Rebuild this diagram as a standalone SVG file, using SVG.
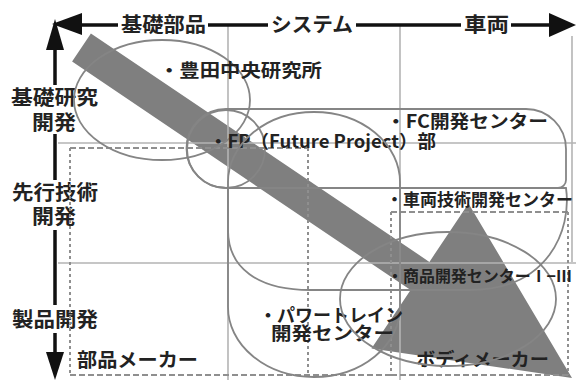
<svg xmlns="http://www.w3.org/2000/svg" width="576" height="380" viewBox="0 0 576 380">
<defs>
<style>
.ax{stroke:#111;stroke-width:3.5;fill:none}
.axh{fill:#111}
.grid{stroke:#b4b4b4;stroke-width:1.6;fill:none}
.out{stroke:#858585;stroke-width:1.8;fill:none}
.dh{stroke:#8f8f8f;stroke-width:2;stroke-dasharray:6 3;fill:none}
.dv{stroke:#8f8f8f;stroke-width:2;stroke-dasharray:3 3;fill:none}
text{font-family:"Noto Sans CJK JP","Noto Sans",sans-serif;font-weight:bold;fill:#222}
.big{font-size:20px}
.lab{font-size:18px}
</style>
</defs>
<rect width="576" height="380" fill="#fff"/>

<g id="connectors">
  <polygon id="flow-arrow" points="90.9,33.4 429.4,261.9 468.5,203.4 572,378 371.5,348.6 410.6,290.1 72.1,61.6" fill="#7f7f7f"/>
</g>

<g id="grid">
  <path class="grid" d="M228,26 V380 M400,26 V380 M572,36 V262 M58,143 H576 M58,263 H576"/>
</g>

<g id="axes">
  <path class="ax" d="M80,25 H118 M208,25 H268 M356,25 H461 M511,25 H552"/>
  <path class="ax" d="M55,48 V85 M55,134 V180 M55,230 V305 M55,333 V355"/>
  <polygon class="axh" points="52,24 82,13 82,35"/>
  <polygon class="axh" points="55,19 46,50 64,50"/>
  <polygon class="axh" points="576,25 549,13 549,37"/>
  <polygon class="axh" points="55,380 46,352 64,352"/>
  <text class="big" x="121" y="31.6" textLength="85" lengthAdjust="spacingAndGlyphs">基礎部品</text>
  <text class="big" x="271" y="31.6" textLength="82" lengthAdjust="spacingAndGlyphs">システム</text>
  <text class="big" x="464" y="31.6" textLength="45" lengthAdjust="spacingAndGlyphs">車両</text>
  <text class="big" x="11" y="105" textLength="87" lengthAdjust="spacingAndGlyphs">基礎研究</text>
  <text class="big" x="32" y="129.6" textLength="44" lengthAdjust="spacingAndGlyphs">開発</text>
  <text class="big" x="12" y="200" textLength="86" lengthAdjust="spacingAndGlyphs">先行技術</text>
  <text class="big" x="32" y="223.6" textLength="44" lengthAdjust="spacingAndGlyphs">開発</text>
  <text class="big" x="12" y="326.6" textLength="86" lengthAdjust="spacingAndGlyphs">製品開発</text>
</g>

<g id="node-parts-makers">
  <path class="dh" d="M70,148 H308 M70,375 H391"/>
  <path class="dv" d="M70,148 V375 M308,148 V375"/>
  <text x="77" y="367" font-size="19" textLength="121" lengthAdjust="spacingAndGlyphs">部品メーカー</text>
</g>

<g id="node-body-makers">
  <path class="dh" d="M391,212 H568 M391,375 H568"/>
  <path class="dv" d="M391,212 V375 M568,212 V375"/>
  <text class="lab" x="416" y="366" textLength="133" lengthAdjust="spacingAndGlyphs">ボディメーカー</text>
</g>

<g id="node-toyota-crdl">
  <ellipse class="out" cx="162" cy="100" rx="88" ry="60"/>
  <text class="lab" x="159" y="76.8" textLength="163" lengthAdjust="spacingAndGlyphs">・豊田中央研究所</text>
</g>

<g id="node-fc-center">
  <path class="out" d="M226,109 H526 A40,40 0 0 1 566,149 V180 A8,8 0 0 1 558,188 H226 A39.5,39.5 0 0 1 226,109 Z"/>
  <text class="lab" x="386" y="127.8" textLength="162" lengthAdjust="spacingAndGlyphs">・FC開発センター</text>
</g>

<g id="node-fp">
  <circle class="out" cx="226" cy="149" r="39"/>
  <text class="lab" x="209" y="147.8" textLength="227" lengthAdjust="spacingAndGlyphs">・FP（Future Project）部</text>
</g>

<g id="node-vehicle-tech">
  <path class="out" d="M228,188 H566 C572,230 548,290 470,290 H310 C258,290 228,268 228,230 Z"/>
  <text x="386" y="205.6" font-size="17" textLength="187" lengthAdjust="spacingAndGlyphs">・車両技術開発センター</text>
</g>

<g id="node-powertrain">
  <rect class="out" x="228" y="112" width="172" height="265" rx="86" ry="70"/>
  <text class="lab"><tspan x="259" y="321.8" textLength="144" lengthAdjust="spacingAndGlyphs">・パワートレイン</tspan><tspan x="271" y="339.8" textLength="123" lengthAdjust="spacingAndGlyphs">開発センター</tspan></text>
</g>

<g id="node-product-dev">
  <ellipse class="out" cx="448" cy="299" rx="108" ry="67"/>
  <text x="387" y="282.2" font-size="16" textLength="185" lengthAdjust="spacingAndGlyphs">・商品開発センターⅠ−Ⅲ</text>
</g>
</svg>
